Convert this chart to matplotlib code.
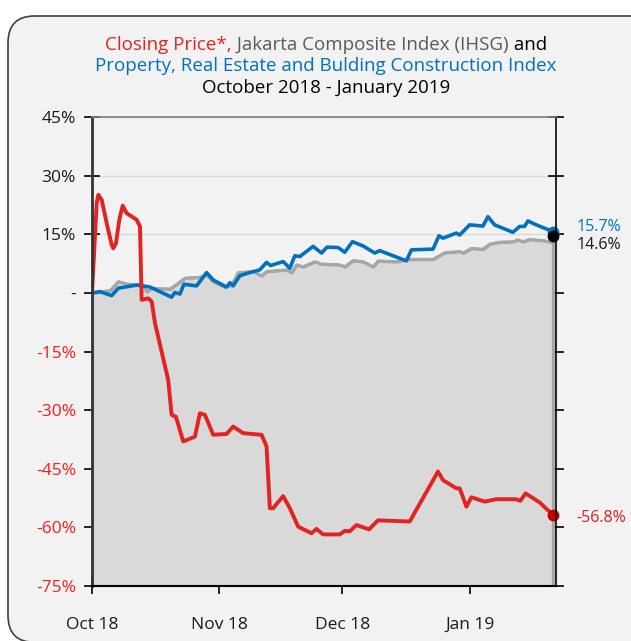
import matplotlib.pyplot as plt
import matplotlib.dates as mdates
from matplotlib.patches import FancyBboxPatch
import pandas as pd

plt.rcParams['font.family'] = ['Open Sans', 'DejaVu Sans']

# day offsets from 1 Oct 2018 and % change
red_days = [0, 1.14, 1.53, 2.36, 3.58, 4.79, 5.18, 5.84, 6.64, 7.47, 8.44, 10.88, 11.68, 12.09,
            13.70, 14.53, 15.33, 18.56, 19.39, 20.44, 22.21, 25.06, 26.28, 27.49, 29.51, 32.77,
            34.38, 36.81, 41.29, 42.51, 43.31, 44.11, 46.55, 48.18, 50.19, 53.45, 54.67, 56.28,
            60.34, 61.56, 62.77, 64.40, 67.47, 69.66, 77.37, 84.26, 85.47, 88.73, 89.54, 91.17,
            92.39, 95.62, 98.47, 103.33, 104.31, 105.60, 109.00, 112.24]
red_vals = [0, 23.0, 25.1, 23.8, 17.8, 12.3, 11.4, 12.7, 18.7, 22.3, 20.4, 18.7, 17.0, -1.8,
            -1.4, -2.2, -7.7, -22.3, -31.2, -31.7, -38.0, -36.8, -30.8, -31.2, -36.3, -36.1,
            -34.2, -35.9, -36.3, -39.3, -55.1, -55.1, -52.0, -55.1, -59.8, -61.5, -60.4, -61.8,
            -61.8, -60.9, -61.0, -59.4, -60.5, -58.2, -58.5, -45.7, -47.9, -50.0, -50.0, -54.7,
            -52.3, -53.4, -52.8, -52.8, -53.2, -51.3, -53.6, -56.8]

blue_days = [0, 1.95, 4.79, 6.40, 10.88, 14.11, 19.39, 20.19, 21.41, 22.38, 25.47, 27.91, 29.51,
             32.77, 33.58, 34.38, 36.01, 38.44, 40.88, 42.51, 43.48, 46.55, 48.18, 49.39, 50.61,
             53.84, 55.89, 57.25, 59.93, 61.56, 63.43, 66.01, 68.86, 70.07, 76.57, 77.79, 83.04,
             84.50, 85.47, 88.73, 89.54, 91.97, 95.21, 96.42, 98.05, 102.51, 104.14, 105.35,
             106.16, 108.20, 112.24]
blue_vals = [0, 0.3, -0.7, 1.2, 2.0, 1.5, -1.1, 0.1, -0.3, 2.2, 1.8, 5.2, 3.3,
             1.5, 2.6, 1.8, 4.4, 5.2, 5.9, 7.8, 7.0, 8.0, 6.3, 9.5, 9.3,
             11.9, 10.2, 11.7, 11.6, 10.4, 13.1, 12.0, 10.2, 10.8, 8.2, 11.0, 11.2,
             14.6, 14.0, 15.3, 14.8, 17.4, 17.1, 19.5, 17.4, 15.5, 17.0, 17.0,
             18.4, 17.4, 15.7]

ihsg_days = [0, 4.38, 6.40, 8.44, 12.48, 13.31, 14.53, 18.98, 20.61, 22.63, 26.28, 27.91, 29.51,
             32.36, 33.99, 35.60, 39.25, 41.29, 42.51, 47.37, 48.59, 49.81, 51.41, 54.26, 55.89,
             60.34, 61.56, 63.58, 66.01, 68.44, 69.66, 74.14, 76.96, 83.04, 85.89, 89.54, 90.34,
             92.39, 95.21, 96.84, 99.27, 102.51, 103.73, 104.94, 106.57, 109.81, 111.85, 112.24]
ihsg_vals = [0, 0.6, 2.9, 2.3, 2.0, 0.3, 1.2, 1.0, 2.2, 3.8, 4.0, 4.6, 2.9,
             1.5, 2.0, 5.2, 5.5, 4.4, 5.5, 5.9, 5.2, 7.2, 6.7, 8.0, 7.4,
             7.2, 6.7, 8.3, 8.0, 6.7, 8.2, 8.0, 8.6, 8.6, 10.3, 10.6, 10.2,
             11.4, 11.2, 12.5, 13.0, 13.1, 13.6, 13.1, 13.7, 13.4, 13.0, 14.6]

y_ticks = [45, 30, 15, 0, -15, -30, -45, -60, -75]
y_labels = ['45%', '30%', '15%', '-', '-15%', '-30%', '-45%', '-60%', '-75%']

start = pd.Timestamp('2018-10-01')
red_x = start + pd.to_timedelta(red_days, unit='D')
blue_x = start + pd.to_timedelta(blue_days, unit='D')
ihsg_x = start + pd.to_timedelta(ihsg_days, unit='D')

RED = '#e32322'
BLUE = '#0070c0'
GRAY = '#a6a6a6'

W, H = 631, 641
fig = plt.figure(figsize=(W / 100, H / 100), dpi=100, facecolor='white')

# rounded frame
box = FancyBboxPatch((8 / W, -0.002), 1.2, 1 - 16 / H + 0.002,
                     boxstyle='round,pad=0,rounding_size=0.042',
                     transform=fig.transFigure, facecolor='#f2f2f2',
                     edgecolor='#404040', linewidth=1.2, zorder=-5)
fig.patches.append(box)

ax = fig.add_axes([92 / W, 1 - 586 / H, (556 - 92) / W, (586 - 117) / H])
ax.set_facecolor('#f2f2f2')

# IHSG area
ax.fill_between(ihsg_x, ihsg_vals, -75, facecolor='#d9d9d9', edgecolor=GRAY,
                linewidth=2.2, zorder=2)
ax.plot(ihsg_x, ihsg_vals, color=GRAY, lw=2, zorder=3, solid_joinstyle='round')
ax.plot(blue_x, blue_vals, color=BLUE, lw=2.6, zorder=4, solid_joinstyle='round')
ax.plot(red_x, red_vals, color=RED, lw=2.8, zorder=5, solid_joinstyle='round')

# end points
ax.plot(blue_x[-1], blue_vals[-1], 'o', color=BLUE, ms=7.5, zorder=6, clip_on=False)
ax.plot(ihsg_x[-1], ihsg_vals[-1], 'o', color='black', ms=7.5, zorder=7, clip_on=False)
ax.plot(red_x[-1], red_vals[-1], 'o', color='#c00000', ms=7.5, zorder=7, clip_on=False)
ax.annotate(f'{blue_vals[-1]:.1f}%', (blue_x[-1], blue_vals[-1]), xytext=(17, 3.5),
            textcoords='offset points', color=BLUE, fontsize=11.5, va='center')
ax.annotate(f'{ihsg_vals[-1]:.1f}%', (ihsg_x[-1], ihsg_vals[-1]), xytext=(17, -6.5),
            textcoords='offset points', color='#1a1a1a', fontsize=11.5, va='center')
ax.annotate(f'{red_vals[-1]:.1f}%', (red_x[-1], red_vals[-1]), xytext=(17, -2),
            textcoords='offset points', color='#dd1f1f', fontsize=11.5, va='center')

ax.set_xlim(start, pd.Timestamp('2019-01-22'))
ax.set_ylim(-75, 45)
ax.set_yticks(y_ticks)
ax.set_yticklabels(y_labels)
for lab, v in zip(ax.get_yticklabels(), y_ticks):
    lab.set_color('#ff1a1a' if v < 0 else '#1a1a1a')
ax.yaxis.grid(True, color='#d9d9d9', lw=1)
ax.set_axisbelow(True)

ax.xaxis.set_major_locator(mdates.MonthLocator())
ax.xaxis.set_major_formatter(mdates.DateFormatter('%b %y'))
ax.tick_params(axis='x', direction='inout', length=12, width=1.2, pad=16,
               labelsize=12.5, labelcolor='#1a1a1a')
ax.tick_params(axis='y', direction='inout', length=11, width=1.2, pad=6,
               labelsize=12.5, right=True)

ax.spines['left'].set_color('#333333')
ax.spines['left'].set_linewidth(2)
ax.spines['right'].set_color('black')
ax.spines['right'].set_linewidth(1.2)
ax.spines['bottom'].set_color('black')
ax.spines['bottom'].set_linewidth(1.5)
ax.spines['top'].set_color('#808080')
ax.spines['top'].set_linewidth(1.2)
for s in ax.spines.values():
    s.set_zorder(8)

# title, first line in three colours
renderer = fig.canvas.get_renderer()
cx = 326 / W
parts = [('Closing Price*,', RED), (' Jakarta Composite Index (IHSG)', '#595959'),
         (' and', 'black')]
texts = [fig.text(0, 1 - 45 / H, s, color=c, fontsize=13.5, va='center') for s, c in parts]
widths = [t.get_window_extent(renderer).width for t in texts]
x = cx * W - sum(widths) / 2
for t, w in zip(texts, widths):
    t.set_x(x / W)
    x += w
fig.text(cx, 1 - 66 / H, 'Property, Real Estate and Bulding Construction Index',
         color=BLUE, fontsize=13.5, ha='center', va='center')
fig.text(cx, 1 - 88 / H, 'October 2018 - January 2019', color='black',
         fontsize=13.5, ha='center', va='center')

fig.savefig('out.png', dpi=100, facecolor='white')
